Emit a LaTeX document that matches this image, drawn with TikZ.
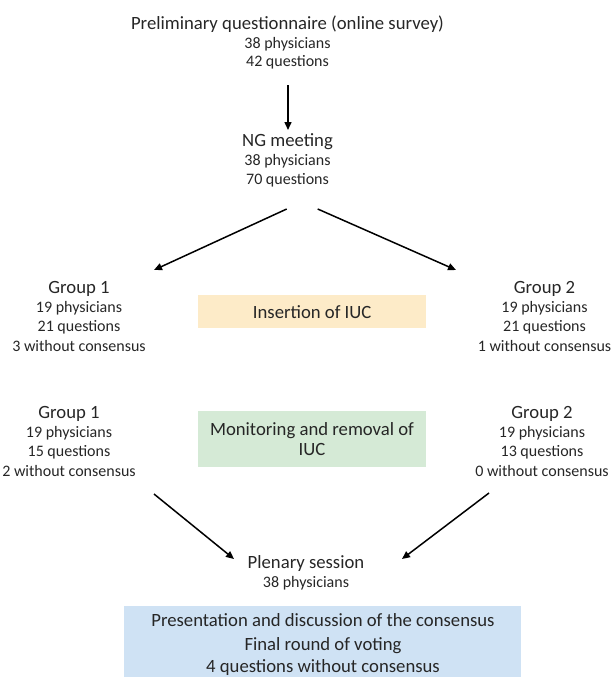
\documentclass[tikz,border=0pt]{standalone}
\usepackage{fontspec}
\setmainfont{Carlito}
\usetikzlibrary{arrows.meta}
\definecolor{txt}{HTML}{262626}
\definecolor{boxorange}{HTML}{FDEBC8}
\definecolor{boxgreen}{HTML}{D5EAD6}
\definecolor{boxblue}{HTML}{CFE2F4}
\tikzset{
  hd/.style={font=\fontsize{18.7}{22}\selectfont, anchor=base, inner sep=0pt, text=txt},
  sm/.style={font=\fontsize{16}{19}\selectfont, anchor=base, inner sep=0pt, text=txt},
  arr/.style={-{Triangle[length=8pt,width=7pt]}, line width=1.5pt, draw=black},
  panel/.style={inner sep=0pt, draw=none, text=txt, align=center, anchor=north west}
}
\begin{document}
\begin{tikzpicture}[x=1pt,y=-1pt]
\useasboundingbox (0,0) rectangle (613,677);
% title block
\node[hd] (pq) at (287.5,30) {Preliminary questionnaire (online survey)};
\node[sm] (pq1) at (287.5,48.3) {38 physicians};
\node[sm] (pq2) at (287.5,66.7) {42 questions};
% NG meeting
\node[hd] (ng) at (287.5,146.7) {NG meeting};
\node[sm] (ng1) at (287.5,165.7) {38 physicians};
\node[sm] (ng2) at (287.5,184.3) {70 questions};
% upper groups
\node[hd] (ga) at (79,293.3) {Group 1};
\node[sm] (ga1) at (79,312.7) {19 physicians};
\node[sm] (ga2) at (79,331.7) {21 questions};
\node[sm] (ga3) at (79,351.7) {3 without consensus};
\node[hd] (gb) at (544.5,293.3) {Group 2};
\node[sm] (gb1) at (544.5,312.7) {19 physicians};
\node[sm] (gb2) at (544.5,331.7) {21 questions};
\node[sm] (gb3) at (544.5,351.7) {1 without consensus};
% lower groups
\node[hd] (gc) at (69,418.3) {Group 1};
\node[sm] (gc1) at (69,437.7) {19 physicians};
\node[sm] (gc2) at (69,456.7) {15 questions};
\node[sm] (gc3) at (69,476.7) {2 without consensus};
\node[hd] (gd) at (542,418.3) {Group 2};
\node[sm] (gd1) at (542,437.7) {19 physicians};
\node[sm] (gd2) at (542,456.7) {13 questions};
\node[sm] (gd3) at (542,476.7) {0 without consensus};
% phase boxes
\node[panel, fill=boxorange, minimum width=228pt, minimum height=33pt,
      font=\fontsize{18.7}{22}\selectfont] (ins) at (198,295) {Insertion of IUC};
\node[panel, fill=boxgreen, minimum width=228pt, minimum height=56pt] (mon) at (198,411) {};
\node[hd] (mon1) at (312,435) {Monitoring and removal of};
\node[hd] (mon2) at (312,455.7) {IUC};
% plenary
\node[hd] (pl) at (306,568.3) {Plenary session};
\node[sm] (pl1) at (306,587.3) {38 physicians};
\node[panel, fill=boxblue, minimum width=397pt, minimum height=71pt] (fin) at (124,606) {};
\node[hd] (fin1) at (323,626.7) {Presentation and discussion of the consensus};
\node[hd] (fin2) at (323,650) {Final round of voting};
\node[hd] (fin3) at (323,672.7) {4 questions without consensus};
% connector ends
\coordinate (s0) at (288,85);   \coordinate (e0) at (288,130);
\coordinate (s1) at (286.7,209); \coordinate (e1) at (154,270);
\coordinate (s2) at (317.7,209); \coordinate (e2) at (456,270);
\coordinate (s3) at (154,494);  \coordinate (e3) at (234,559);
\coordinate (s4) at (489,493);  \coordinate (e4) at (402,559);
\draw[arr] (s0) -- (e0);
\draw[arr] (s1) -- (e1);
\draw[arr] (s2) -- (e2);
\draw[arr] (s3) -- (e3);
\draw[arr] (s4) -- (e4);
\end{tikzpicture}
\end{document}
